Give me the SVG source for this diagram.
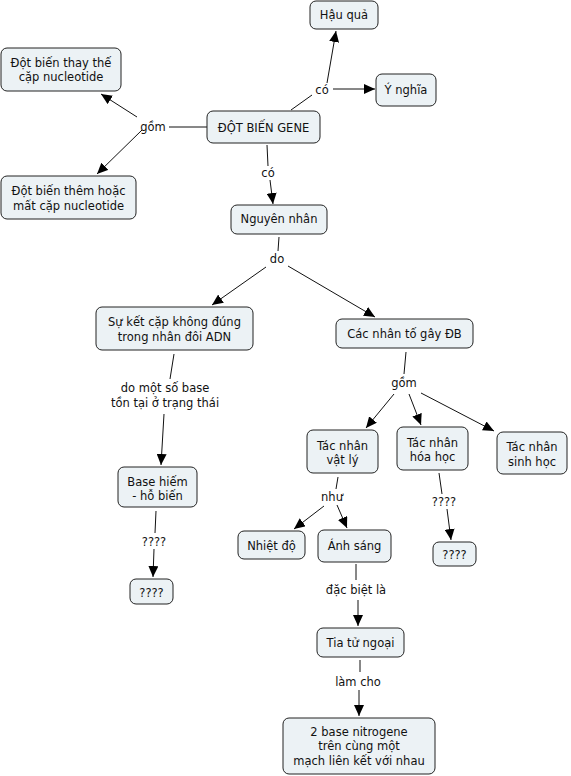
<svg xmlns="http://www.w3.org/2000/svg" width="571" height="776" viewBox="0 0 571 776">
<style>
.box{fill:#ecf2f5;stroke:#222;stroke-width:1}
text{font-family:"DejaVu Sans","Noto Sans",sans-serif;font-size:11.5px;fill:#111;text-anchor:middle}
.c line{stroke:#111;stroke-width:1}
.a{marker-end:url(#ah)}
</style>
<defs>
<marker id="ah" markerWidth="12" markerHeight="10" refX="11" refY="5" orient="auto" markerUnits="userSpaceOnUse"><path d="M0,0 L11,5 L0,10 z" fill="#000"/></marker>
</defs>
<rect width="571" height="776" fill="#fff"/>
<g class="c" id="connectors">
<line x1="207" y1="127" x2="169" y2="127"/>
<line class="a" x1="137" y1="117" x2="101" y2="94"/>
<line class="a" x1="142" y1="130" x2="97" y2="174"/>
<line x1="291" y1="110" x2="312" y2="95"/>
<line class="a" x1="327" y1="83" x2="336" y2="31"/>
<line class="a" x1="333" y1="89" x2="375" y2="89"/>
<line x1="267" y1="145" x2="268" y2="166"/>
<line class="a" x1="270" y1="180" x2="273" y2="204"/>
<line x1="279" y1="237" x2="278" y2="251"/>
<line class="a" x1="266" y1="267" x2="212" y2="305"/>
<line class="a" x1="288" y1="266" x2="375" y2="317"/>
<line x1="174" y1="354" x2="170" y2="379"/>
<line class="a" x1="164" y1="414" x2="161" y2="465"/>
<line x1="156" y1="511" x2="155" y2="533"/>
<line class="a" x1="154" y1="549" x2="153" y2="577"/>
<line x1="406" y1="352" x2="404" y2="374"/>
<line class="a" x1="394" y1="394" x2="366" y2="428"/>
<line class="a" x1="409" y1="394" x2="421" y2="425"/>
<line class="a" x1="421" y1="393" x2="494" y2="431"/>
<line x1="338" y1="477" x2="336" y2="489"/>
<line class="a" x1="324" y1="506" x2="294" y2="529"/>
<line class="a" x1="337" y1="505" x2="347" y2="528"/>
<line x1="439" y1="473" x2="442" y2="494"/>
<line class="a" x1="447" y1="509" x2="451" y2="540"/>
<line x1="356" y1="564" x2="356" y2="580"/>
<line class="a" x1="358" y1="600" x2="358" y2="626"/>
<line x1="360" y1="660" x2="360" y2="672"/>
<line class="a" x1="359" y1="690" x2="359" y2="716"/>
</g>
<g id="labels">
<text x="153" y="131">gồm</text>
<text x="322" y="94">có</text>
<text x="268" y="177">có</text>
<text x="277" y="263">do</text>
<text x="165" y="392">do một số base</text>
<text x="165" y="407">tồn tại ở trạng thái</text>
<text x="154" y="546">????</text>
<text x="404" y="387">gồm</text>
<text x="332" y="501">như</text>
<text x="444" y="506">????</text>
<text x="356" y="594">đặc biệt là</text>
<text x="358" y="686">làm cho</text>
</g>
<g id="n_thaythe"><rect class="box" x="1" y="48" width="120" height="43" rx="6"/><text x="61" y="66.5">Đột biến thay thế</text><text x="61" y="81">cặp nucleotide</text></g>
<g id="n_them"><rect class="box" x="1" y="176" width="135" height="43" rx="6"/><text x="68.5" y="195">Đột biến thêm hoặc</text><text x="68.5" y="209.5">mất cặp nucleotide</text></g>
<g id="n_hauqua"><rect class="box" x="310" y="1" width="68" height="28" rx="6"/><text x="344" y="19">Hậu quả</text></g>
<g id="n_ynghia"><rect class="box" x="376" y="74" width="60" height="32" rx="6"/><text x="406" y="94">Ý nghĩa</text></g>
<g id="n_root"><rect class="box" x="207" y="111" width="113" height="32" rx="6"/><text x="263.5" y="132">ĐỘT BIẾN GENE</text></g>
<g id="n_nguyennhan"><rect class="box" x="231" y="205" width="96" height="29" rx="6"/><text x="279" y="223">Nguyên nhân</text></g>
<g id="n_suket"><rect class="box" x="96" y="307" width="157" height="43" rx="6"/><text x="174.5" y="326">Sự kết cặp không đúng</text><text x="174.5" y="340.5">trong nhân đôi ADN</text></g>
<g id="n_cacnhanto"><rect class="box" x="336" y="319" width="137" height="29" rx="6"/><text x="404.5" y="338">Các nhân tố gây ĐB</text></g>
<g id="n_vatly"><rect class="box" x="307" y="430" width="71" height="43" rx="6"/><text x="342.5" y="449.5">Tác nhân</text><text x="342.5" y="464">vật lý</text></g>
<g id="n_hoahoc"><rect class="box" x="397" y="427" width="71" height="43" rx="6"/><text x="432.5" y="446.5">Tác nhân</text><text x="432.5" y="461">hóa học</text></g>
<g id="n_sinhhoc"><rect class="box" x="497" y="432" width="70" height="42" rx="6"/><text x="532" y="451">Tác nhân</text><text x="532" y="465.5">sinh học</text></g>
<g id="n_basehiem"><rect class="box" x="118" y="467" width="79" height="40" rx="6"/><text x="157.5" y="485.5">Base hiếm</text><text x="157.5" y="500">- hỗ biến</text></g>
<g id="n_q1"><rect class="box" x="130" y="579" width="43" height="25" rx="6"/><text x="151.5" y="597">????</text></g>
<g id="n_nhietdo"><rect class="box" x="238" y="531" width="67" height="28" rx="6"/><text x="271.5" y="549.5">Nhiệt độ</text></g>
<g id="n_anhsang"><rect class="box" x="318" y="530" width="73" height="32" rx="6"/><text x="354.5" y="550">Ánh sáng</text></g>
<g id="n_q2"><rect class="box" x="433" y="542" width="43" height="24" rx="6"/><text x="454.5" y="559">????</text></g>
<g id="n_tia"><rect class="box" x="317" y="628" width="87" height="29" rx="6"/><text x="360.5" y="646.5">Tia tử ngoại</text></g>
<g id="n_2base"><rect class="box" x="283" y="718" width="152" height="56" rx="6"/><text x="359" y="735.5">2 base nitrogene</text><text x="359" y="750">trên cùng một</text><text x="359" y="764.5">mạch liên kết với nhau</text></g>
</svg>
